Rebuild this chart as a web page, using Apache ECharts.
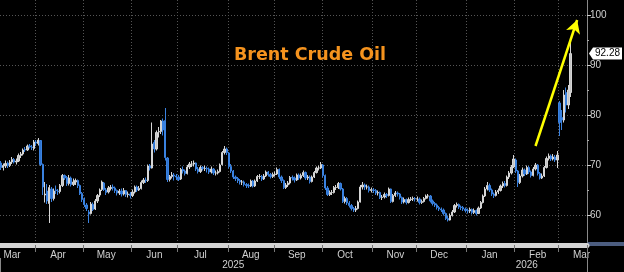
<!DOCTYPE html>
<html><head><meta charset="utf-8">
<script src="https://cdn.jsdelivr.net/npm/echarts@6/dist/echarts.min.js"></script>
<style>html,body{margin:0;padding:0;background:#000;}#c{width:624px;height:272px;}</style>
</head><body><div id="c"></div>
<script>
// Daily candles [open, close, low, high], one small array per month
const mar25 = [[70.4,69.5,69.0,70.8],[69.5,69.9,68.9,70.3],[69.8,70.3,69.4,70.9],[70.4,69.9,69.4,70.7],[69.9,70.6,69.6,71.0],[70.6,71.1,70.2,71.6],[71.1,70.6,70.3,71.4],[70.6,70.8,70.1,71.3],[70.8,71.9,70.6,72.3],[71.9,72.2,71.4,72.6],[72.2,73.0,71.9,73.3],[73.1,73.0,72.6,73.6],[73.0,73.8,72.8,74.1],[73.8,73.6,73.3,74.2],[73.6,73.5,73.0,74.0],[73.3,74.6,72.9,75.0]];
const apr25 = [[74.6,74.4,73.8,75.0],[74.3,75.0,73.9,75.4],[74.9,70.1,69.8,75.0],[70.1,65.6,64.0,70.3],[64.0,64.2,62.5,66.6],[64.8,62.8,62.2,66.2],[62.3,65.5,58.4,66.0],[65.2,63.3,62.6,65.6],[63.3,64.8,62.9,65.3],[65.0,64.9,64.2,65.9],[64.8,64.7,64.0,65.2],[64.7,65.9,64.3,66.2],[65.9,67.9,65.6,68.2],[67.9,67.4,67.0,68.1],[67.5,66.3,65.8,67.8],[66.3,67.4,65.9,68.0],[67.4,66.1,65.7,67.7],[66.1,66.6,65.8,67.3],[66.6,66.9,66.0,67.3],[66.9,65.9,65.4,67.1],[65.9,64.3,64.0,66.1],[64.3,63.1,62.6,64.6]];
const may25 = [[63.1,62.1,61.6,63.5],[62.0,61.3,60.8,62.4],[60.6,60.2,58.4,61.0],[60.3,62.2,60.1,62.6],[62.1,61.1,60.8,62.5],[61.2,62.8,61.0,63.2],[62.8,63.9,62.4,64.2],[64.0,65.0,63.6,65.3],[65.1,66.6,64.8,66.9],[66.4,65.1,64.8,66.6],[65.0,64.5,64.0,65.4],[64.6,65.4,64.3,65.8],[65.3,65.5,64.9,66.0],[65.6,65.4,64.9,66.1],[65.4,64.9,64.4,65.7],[64.9,64.4,63.9,65.1],[64.4,64.8,64.0,65.2],[64.8,64.2,63.7,65.3],[64.2,64.9,63.9,65.4],[64.9,64.1,63.6,65.0],[64.1,64.2,63.5,64.7],[64.2,63.9,63.3,64.6]];
const jun25 = [[63.9,64.6,63.6,65.1],[64.6,65.6,64.3,65.9],[65.6,65.0,64.6,65.9],[65.0,65.3,64.8,65.8],[65.3,66.5,65.1,66.9],[66.5,67.0,66.2,67.4],[67.0,66.9,66.4,67.5],[66.9,69.8,66.6,70.1],[69.8,69.4,68.9,70.2],[69.4,74.2,69.3,78.5],[74.5,73.2,72.5,75.0],[73.2,76.5,72.9,76.9],[76.6,76.7,75.5,77.6],[76.7,78.8,76.2,79.0],[78.8,77.0,75.9,79.3],[78.9,71.5,70.9,81.4],[71.4,67.1,66.6,71.6],[67.1,67.7,66.7,68.0],[67.7,68.0,67.3,68.6],[68.0,67.8,66.9,68.4],[67.8,67.6,67.0,68.2]];
const jul25 = [[67.6,67.1,66.8,68.0],[67.2,69.1,67.0,69.4],[69.1,68.8,68.3,69.7],[68.8,68.3,67.9,69.1],[68.3,69.6,68.1,70.0],[69.6,70.2,69.2,70.6],[70.2,70.2,69.6,70.8],[70.2,70.4,69.7,70.9],[70.4,69.2,68.8,70.5],[69.2,68.7,68.3,69.6],[68.7,69.5,68.4,69.9],[69.5,69.3,68.9,69.8],[69.3,69.3,68.8,69.9],[69.3,69.2,68.5,69.7],[69.2,68.6,68.2,69.5],[68.6,69.2,68.3,69.7],[69.2,68.4,68.0,69.4],[68.4,68.4,67.9,68.9],[68.4,68.7,68.1,69.1],[68.7,70.0,68.5,70.3],[70.1,72.5,69.9,72.8],[72.5,73.2,72.1,73.8],[73.2,72.5,72.0,73.5]];
const aug25 = [[72.4,69.7,69.3,72.6],[69.7,68.8,68.4,70.2],[68.8,67.6,67.2,69.0],[67.6,67.3,66.8,67.9],[67.3,66.9,66.4,67.6],[66.9,66.6,66.1,67.2],[66.6,66.6,66.0,67.0],[66.6,66.1,65.7,66.9],[66.1,65.9,65.4,66.4],[65.9,65.8,65.4,66.3],[65.8,66.8,65.6,67.1],[66.8,65.8,65.5,67.0],[65.8,66.8,65.6,67.1],[66.8,67.7,66.6,68.0],[67.7,67.7,67.2,68.2],[67.7,67.2,66.8,68.0],[67.2,67.8,67.0,68.2],[67.8,68.6,67.6,68.9],[68.6,68.1,67.7,68.8],[68.1,67.7,67.3,68.4],[67.7,68.1,67.4,68.5]];
const sep25 = [[68.1,68.2,67.7,68.7],[68.2,69.1,68.0,69.5],[69.1,67.6,67.2,69.3],[67.6,66.9,66.4,67.9],[66.9,65.5,65.2,67.1],[65.5,66.0,65.2,66.4],[66.0,66.4,65.6,66.8],[66.4,67.5,66.1,67.8],[67.5,67.4,66.9,67.9],[67.4,67.0,66.5,67.7],[67.0,68.0,66.8,68.3],[68.0,67.4,67.0,68.3],[67.4,67.9,67.1,68.3],[67.9,68.5,67.6,68.9],[68.5,67.4,67.0,68.7],[67.4,67.6,67.0,68.0],[67.6,66.7,66.3,67.9],[66.7,67.6,66.5,67.9],[67.6,68.5,67.4,68.8],[68.5,69.4,68.3,69.7],[69.4,69.4,68.9,69.9],[69.4,70.1,69.2,70.6]];
const oct25 = [[70.0,67.9,67.5,70.2],[67.9,65.4,65.0,68.1],[65.4,64.1,63.8,65.8],[64.1,64.5,63.8,64.9],[64.5,64.5,64.0,65.0],[64.5,65.5,64.3,65.8],[65.5,65.5,65.0,66.0],[65.5,66.3,65.2,66.6],[66.3,65.2,64.9,66.5],[65.2,62.7,62.4,65.4],[62.7,63.3,62.3,63.7],[63.3,62.4,62.0,63.6],[62.4,61.9,61.5,62.8],[61.9,61.3,60.9,62.2],[61.3,61.0,60.6,61.6],[61.0,61.3,60.6,61.8],[61.3,62.6,61.1,62.9],[62.6,65.6,62.5,66.0],[65.6,66.0,65.1,66.6],[66.0,65.6,65.0,66.3],[65.6,65.6,65.1,66.1],[65.6,64.9,64.5,65.9],[64.9,65.1,64.5,65.5]];
const nov25 = [[65.0,64.9,64.4,65.4],[64.9,64.4,64.0,65.2],[64.4,64.5,63.9,64.9],[64.5,63.5,63.2,64.7],[63.5,63.6,63.0,64.0],[63.6,64.1,63.3,64.5],[64.1,63.9,63.4,64.4],[63.9,65.2,63.7,65.5],[65.2,62.7,62.4,65.3],[62.7,63.9,62.5,64.2],[63.9,64.4,63.6,64.8],[64.4,64.2,63.7,64.7],[64.2,63.5,63.1,64.4],[63.5,62.6,62.2,63.7],[62.6,63.1,62.3,63.5],[63.1,62.5,62.1,63.3],[62.5,63.1,62.3,63.5],[63.1,63.2,62.8,63.6],[63.2,63.3,62.8,63.7],[63.3,63.2,62.7,63.6]];
const dec25 = [[63.2,63.2,62.7,63.7],[63.2,62.5,62.1,63.5],[62.5,62.7,62.2,63.1],[62.7,63.3,62.5,63.6],[63.3,63.8,63.1,64.1],[63.8,63.8,63.3,64.2],[63.8,62.8,62.5,64.0],[62.8,62.3,61.9,63.1],[62.3,62.0,61.6,62.6],[62.0,61.5,61.1,62.3],[61.5,61.2,60.8,61.8],[61.2,61.0,60.6,61.5],[61.0,60.3,59.9,61.3],[60.3,59.3,59.0,60.5],[59.3,59.0,58.7,59.8],[59.0,59.9,58.9,60.3],[59.9,60.6,59.7,61.0],[60.6,61.9,60.4,62.2],[61.9,62.1,61.5,62.5],[62.1,61.6,61.2,62.3],[61.6,61.5,61.0,61.9],[61.5,61.2,60.8,61.8],[61.2,60.9,60.5,61.5]];
const jan26 = [[60.9,60.8,60.3,61.3],[60.8,61.1,60.4,61.5],[61.1,60.5,60.1,61.3],[60.5,60.9,60.2,61.3],[60.9,60.3,59.9,61.1],[60.3,61.4,60.2,61.7],[61.4,62.5,61.2,62.8],[62.5,63.8,62.3,64.1],[63.8,65.2,63.6,65.6],[65.2,65.9,64.9,66.6],[65.9,65.0,64.6,66.3],[65.0,64.2,63.8,65.3],[64.2,63.9,63.4,64.5],[63.9,64.6,63.7,65.0],[64.6,64.9,64.2,65.3],[64.9,65.8,64.7,66.1],[65.8,66.3,65.4,66.7],[66.3,65.9,65.5,66.8],[65.9,67.6,65.7,67.9],[67.6,68.4,67.2,68.8],[68.4,69.6,68.1,70.0],[69.6,71.2,69.4,72.0]];
const feb26 = [[71.0,68.8,68.4,71.3],[68.8,66.5,65.6,69.0],[66.5,67.8,66.2,68.2],[67.8,69.0,67.5,69.5],[69.0,68.2,67.8,69.3],[68.2,69.5,68.0,69.9],[69.5,68.6,68.2,69.8],[68.6,67.9,67.5,68.9],[67.9,69.2,67.7,69.6],[69.2,70.0,68.9,70.4],[70.0,68.3,67.9,70.2],[68.3,67.4,67.1,68.6],[67.4,67.8,67.2,68.3],[67.8,69.5,67.6,69.8],[69.5,71.3,69.3,71.7],[71.3,71.8,70.9,72.3],[71.8,71.2,70.8,72.1],[71.2,71.6,70.9,72.2],[71.6,71.0,70.6,72.0],[71.0,72.0,69.4,72.8]];
const mar26 = [[82.4,78.5,75.8,82.8],[79.5,79.0,77.0,81.0],[79.0,84.0,78.5,85.0],[84.5,82.0,80.5,85.5],[82.0,85.0,81.2,86.0],[84.5,92.28,83.6,94.6]];

const startDate = '2025-03-10';
const emptySlots = 7;                       // trading days left blank after the last candle
const monthNames = ['Jan','Feb','Mar','Apr','May','Jun','Jul','Aug','Sep','Oct','Nov','Dec'];
const yTickValues = [60,70,80,90,100];
const yMinorValues = [65,75,85,95];
const titleText = 'Brent Crude Oil';
const lastPrice = 92.28;
const arrowFrom = [244, 73.8];
const arrowTo = [263, 99.0];

const candles = [].concat(mar25,apr25,may25,jun25,jul25,aug25,sep25,oct25,nov25,dec25,jan26,feb26,mar26);

// weekday categories
const dates = [];
(function(){
  const d = new Date(startDate + 'T00:00:00Z');
  while (dates.length < candles.length + emptySlots) {
    const wd = d.getUTCDay();
    if (wd !== 0 && wd !== 6) dates.push(d.toISOString().slice(0,10));
    d.setUTCDate(d.getUTCDate() + 1);
  }
})();
const monthStart = new Set(), monthLabel = new Set(), yearStart = new Set();
const yearRange = {};
dates.forEach((s,i) => {
  const prev = dates[i-1];
  if (i > 0 && prev.slice(0,7) !== s.slice(0,7)) monthStart.add(i);
  if (i > 0 && prev.slice(0,4) !== s.slice(0,4)) yearStart.add(i);
  const day = +s.slice(8,10);
  if (day >= 15 && (i === 0 || prev.slice(0,7) !== s.slice(0,7) || +prev.slice(8,10) < 15)) monthLabel.add(i);
  const y = s.slice(0,4);
  if (!yearRange[y]) yearRange[y] = [i,i]; else yearRange[y][1] = i;
});
const yearLabel = {};
Object.keys(yearRange).forEach(y => { yearLabel[Math.round((yearRange[y][0]+yearRange[y][1])/2)] = y; });

const FONT = 'Liberation Sans';
const chart = echarts.init(document.getElementById('c'), null, {renderer:'canvas'});
const gridRight = 37, gridBottom = 30;
chart.setOption({
  backgroundColor:'#000',
  animation:false,
  title:{text:titleText, left:229, top:41, textStyle:{color:'#f5931e', fontSize:17.5, fontWeight:'bold', fontFamily:'DejaVu Sans'}},
  grid:{left:0, right:gridRight, top:0, bottom:gridBottom},
  xAxis:[{
    type:'category', data:dates, boundaryGap:true, offset:3,
    axisLine:{show:true, lineStyle:{color:'#d4d4d4', width:5}},
    axisTick:{show:true, interval:(i)=>monthStart.has(i), length:7, lineStyle:{color:'#777'}},
    axisLabel:{interval:(i)=>monthLabel.has(i), formatter:(v)=>monthNames[+v.slice(5,7)-1], color:'#d0d0d0', fontSize:10, fontFamily:FONT, margin:5},
    splitLine:{show:true, interval:(i)=>monthStart.has(i), lineStyle:{color:'#555', type:[1,2], width:1}}
  },{
    type:'category', data:dates, boundaryGap:true, position:'bottom', offset:16,
    axisLine:{show:false},
    axisTick:{show:true, interval:(i)=>yearStart.has(i), length:14, lineStyle:{color:'#888'}},
    axisLabel:{interval:(i)=>yearLabel[i]!==undefined, formatter:(v,i)=>yearLabel[i]||'', color:'#d0d0d0', fontSize:10, fontFamily:FONT, margin:2},
    splitLine:{show:false}
  }],
  yAxis:[{
    type:'value', position:'right', min:54.6, max:103, scale:true,
    axisLine:{show:true, lineStyle:{color:'#8a8a8a'}},
    axisTick:{show:true, customValues:yTickValues, length:4, lineStyle:{color:'#cfcfcf'}},
    axisLabel:{customValues:yTickValues, color:'#d0d0d0', fontSize:10, fontFamily:FONT, margin:3},
    splitLine:{show:true, lineStyle:{color:'#555', type:[1,2], width:1}}
  },{
    type:'value', position:'right', min:54.6, max:103,
    axisLine:{show:false},
    axisTick:{show:true, customValues:yMinorValues, length:2, lineStyle:{color:'#aaa'}},
    axisLabel:{show:false}, splitLine:{show:false}
  }],
  series:[{
    type:'candlestick', xAxisIndex:0, yAxisIndex:0, data:candles, barWidth:'80%',
    itemStyle:{color:'#c4c4c4', color0:'#2f74d0', borderColor:'#d6d6d6', borderColor0:'#3a82e0', borderWidth:1},
    silent:true,
    markLine:{
      silent:true, symbol:['none','arrow'], symbolSize:[11,13],
      label:{show:false},
      lineStyle:{color:'#ffff00', width:2.5, type:'solid'},
      data:[[{coord:arrowFrom},{coord:arrowTo}]]
    }
  }]
});

// last-price tag on the axis
const py = chart.convertToPixel({yAxisIndex:0}, lastPrice);
const ax = 624 - gridRight;
chart.setOption({graphic:[
  {type:'rect', shape:{x:ax, y:272-gridBottom, width:gridRight, height:4}, style:{fill:'#4c5d80'}, silent:true},
  {type:'polygon', shape:{points:[[ax+2,py],[ax+6,py-6],[ax+35,py-6],[ax+35,py+6],[ax+6,py+6]]}, style:{fill:'#fff'}, silent:true},
  {type:'text', x:ax+8, y:py, style:{text:lastPrice.toFixed(2), fill:'#000', font:'10px '+FONT, textVerticalAlign:'middle'}, silent:true}
]});
</script></body></html>
